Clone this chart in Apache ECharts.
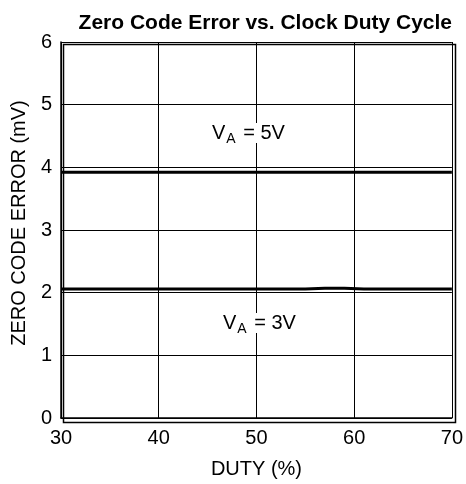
<!DOCTYPE html>
<html>
<head>
<meta charset="utf-8">
<script src="https://cdn.jsdelivr.net/npm/echarts@6/dist/echarts.min.js"></script>
<style>
  html, body { margin: 0; padding: 0; background: #fff; }
  #chart { width: 466px; height: 484px; }
</style>
</head>
<body>
<div id="chart"></div>
<script>
// values
var duty = [30, 40, 50, 55, 57, 59, 61, 70];
var err5V = [3.92, 3.92, 3.92, 3.92, 3.92, 3.92, 3.92, 3.92];
var err3V = [2.06, 2.06, 2.06, 2.06, 2.07, 2.07, 2.06, 2.06];
var xTicks = [30, 40, 50, 60, 70];
var yTicks = [0, 1, 2, 3, 4, 5, 6];

var FONT = 'Liberation Sans, Arial, sans-serif';

function pairs(xs, ys) {
  return xs.map(function (x, i) { return [x, ys[i]]; });
}

// V with subscript A, as rich text
var richLabel = {
  v: { fontFamily: FONT, fontSize: 20, fill: '#000', backgroundColor: '#fff' },
  s: { fontFamily: FONT, fontSize: 14, fill: '#000', padding: [12, 2, 0, 1], backgroundColor: '#fff' }
};

var chart = echarts.init(document.getElementById('chart'));

var option = {
  backgroundColor: '#ffffff',
  animation: false,
  title: {
    text: 'Zero Code Error vs. Clock Duty Cycle',
    right: 9,
    top: 8,
    textStyle: { fontFamily: FONT, fontSize: 21, fontWeight: 'bold', color: '#000' }
  },
  grid: { left: 61, right: 13, top: 42, bottom: 64 },
  xAxis: {
    type: 'value',
    min: xTicks[0],
    max: xTicks[xTicks.length - 1],
    interval: 10,
    name: 'DUTY (%)',
    nameLocation: 'middle',
    nameGap: 41,
    nameTextStyle: { fontFamily: FONT, fontSize: 20, color: '#000' },
    axisLine: { lineStyle: { color: '#000', width: 1.5 } },
    axisTick: { show: false },
    axisLabel: { fontFamily: FONT, fontSize: 20, color: '#000', margin: 10 },
    splitLine: { show: true, lineStyle: { color: '#000', width: 1 } }
  },
  yAxis: {
    type: 'value',
    min: yTicks[0],
    max: yTicks[yTicks.length - 1],
    interval: 1,
    name: 'ZERO CODE ERROR (mV)',
    nameLocation: 'middle',
    nameGap: 32,
    nameTextStyle: { fontFamily: FONT, fontSize: 20, color: '#000', padding: [0, 0, 0, 14] },
    axisLine: { show: true, lineStyle: { color: '#000', width: 1.5 } },
    axisTick: { show: false },
    axisLabel: { fontFamily: FONT, fontSize: 20, color: '#000', margin: 9 },
    splitLine: { show: true, lineStyle: { color: '#000', width: 1 } }
  },
  graphic: [
    {
      type: 'rect', left: 61, top: 42, z: 10, silent: true,
      shape: { width: 392, height: 378 },
      style: { fill: 'none', stroke: '#000', lineWidth: 1.5 }
    },
    {
      type: 'text', left: 212, top: 120, z: 20,
      style: { text: '{v|V}{s|A}{v| = 5V}', rich: richLabel }
    },
    {
      type: 'text', left: 223, top: 310, z: 20,
      style: { text: '{v|V}{s|A}{v| = 3V}', rich: richLabel }
    }
  ],
  series: [
    {
      name: 'VA = 5V',
      type: 'line',
      data: pairs(duty, err5V),
      symbol: 'none',
      lineStyle: { color: '#000', width: 3 }
    },
    {
      name: 'VA = 3V',
      type: 'line',
      data: pairs(duty, err3V),
      symbol: 'none',
      lineStyle: { color: '#000', width: 3 }
    }
  ]
};

chart.setOption(option);
</script>
</body>
</html>
